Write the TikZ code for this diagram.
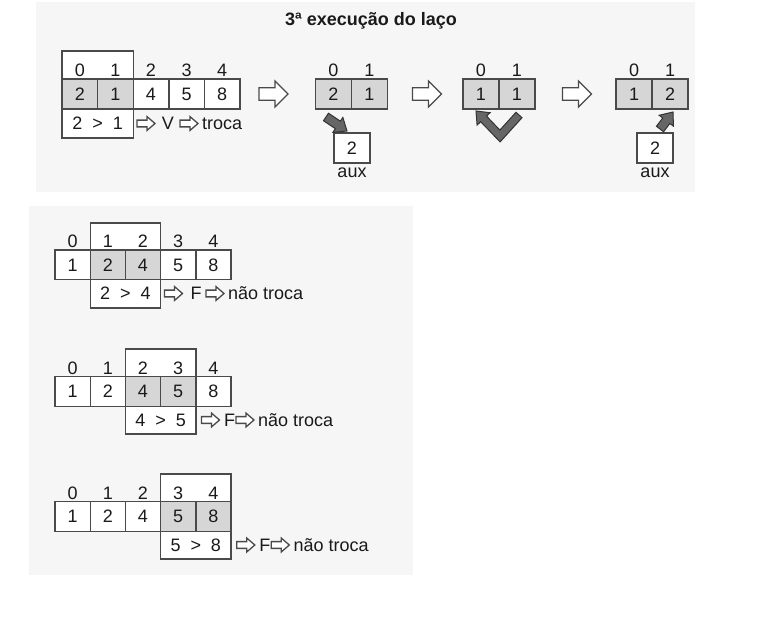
\documentclass[tikz,border=0pt]{standalone}
\usepackage{fontspec}
\setmainfont{Liberation Sans}
\usetikzlibrary{calc}
\definecolor{panel}{HTML}{F6F6F6}
\definecolor{shade}{HTML}{D6D6D6}
\definecolor{edge}{HTML}{4A4A4A}
\definecolor{darr}{HTML}{666666}
\definecolor{ink}{HTML}{1A1A1A}
\newcommand\gt{\hspace{0.55em}>\hspace{0.55em}}
\tikzset{
  cell/.style={draw=edge, line width=1.4pt, minimum height=30pt, inner sep=0pt, text=ink,
    text height=12.9pt, text depth=0pt, font=\fontsize{18}{21}\selectfont},
  lbl/.style={inner sep=0pt, text=ink, text height=12.9pt, text depth=0pt,
    font=\fontsize{18}{21}\selectfont},
  txt/.style={inner sep=0pt, text=ink, font=\fontsize{18}{21}\selectfont},
  frame/.style={draw=edge, line width=1.4pt, fill=white},
  harr/.style={draw=edge, line width=1.3pt, fill=white, line join=miter},
  darkarr/.style={draw=black!80, line width=1pt, fill=darr, line join=miter},
}
\newcommand\harrow[5]{%
  \coordinate (#1) at (#2,#3);
  \pgfmathsetmacro\arL{#4/2}\pgfmathsetmacro\arA{#4/2-0.45*#4}%
  \pgfmathsetmacro\arH{#5/2}\pgfmathsetmacro\arh{0.24*#5}%
  \draw[harr,shift={(#2,#3)}] (-\arL,-\arh) -- (\arA,-\arh) -- (\arA,-\arH) -- (\arL,0)
     -- (\arA,\arH) -- (\arA,\arh) -- (-\arL,\arh) -- cycle;}
\newcommand\darrow[2]{%
  \coordinate (#1b) at ($(#2)!11pt!(#1)$);
  \draw[darkarr] ($(#1)!4.5pt!90:(#2)$) -- ($(#1b)!4.5pt!-90:(#1)$) -- ($(#1b)!9pt!-90:(#1)$)
     -- (#2) -- ($(#1b)!9pt!90:(#1)$) -- ($(#1b)!4.5pt!90:(#1)$) -- ($(#1)!4.5pt!-90:(#2)$) -- cycle;}
\begin{document}
\begin{tikzpicture}[x=1pt,y=-1pt]
\useasboundingbox (0,0) rectangle (761,629);
\fill[panel] (36,2) rectangle (695,192);
\fill[panel] (29,206) rectangle (413,575);

% title
\node[inner sep=0pt, anchor=base, text=ink, font=\bfseries\fontsize{18}{21}\selectfont] (title) at (371,25) {3ª execução do laço};

% ---------- top: array A
\draw[frame] (62,51) rectangle (133.2,138);
\foreach \i/\v/\c in {0/2/shade,1/1/shade,2/4/white,3/5/white,4/8/white}{
  \node[cell, minimum width=35.6pt, fill=\c] (a\i) at (79.8+35.6*\i,94) {\v};
  \node[lbl] (ai\i) at (79.8+35.6*\i,70.5) {\i};
}
\node[lbl] (acmp) at (97.6,123.5) {2\gt 1};
\harrow{aar1}{146}{123.5}{18}{14}
\node[txt, text height=12.9pt, text depth=0pt] (aV) at (168,123.5) {V};
\harrow{aar2}{189}{123.5}{18}{14}
\node[txt, anchor=base west] (atroca) at (202,129.9) {troca};

% big arrows
\harrow{big1}{273.5}{94}{29}{26}
\harrow{big2}{427}{94}{29}{26}
\harrow{big3}{577}{94}{29}{26}

% ---------- array B
\foreach \i/\v in {0/2,1/1}{
  \node[cell, minimum width=36pt, fill=shade] (b\i) at (333.5+36*\i,94) {\v};
  \node[lbl] (bi\i) at (333.5+36*\i,70.5) {\i};
}
\node[cell, minimum width=36pt, fill=white] (auxb) at (352,148) {2};
\node[txt, anchor=base] (auxbl) at (352,177.5) {aux};
\coordinate (tB) at (326,117);
\coordinate (pB) at (347,131);
\darrow{tB}{pB}

% ---------- array C
\foreach \i/\v in {0/1,1/1}{
  \node[cell, minimum width=36pt, fill=shade] (c\i) at (481+36*\i,94) {\v};
  \node[lbl] (ci\i) at (481+36*\i,70.5) {\i};
}
\draw[darkarr] (476,111) -- (490.1,112.7) -- (486.5,116.1) -- (499.9,130.1) -- (516,112.3)
  -- (522,117.7) -- (500.1,141.9) -- (480.7,121.7) -- (477.1,125.1) -- cycle;

% ---------- array D
\foreach \i/\v in {0/1,1/2}{
  \node[cell, minimum width=36pt, fill=shade] (d\i) at (634+36*\i,94) {\v};
  \node[lbl] (di\i) at (634+36*\i,70.5) {\i};
}
\node[cell, minimum width=36pt, fill=white] (auxd) at (655,148) {2};
\node[txt, anchor=base] (auxdl) at (655,177.5) {aux};
\coordinate (tD) at (660,129);
\coordinate (pD) at (673,112);
\darrow{tD}{pD}

% ---------- bottom row 1
\draw[frame] (90.2,223) rectangle (160.6,308);
\foreach \i/\v/\c in {0/1/white,1/2/shade,2/4/shade,3/5/white,4/8/white}{
  \node[cell, minimum width=35.2pt, minimum height=29.5pt, fill=\c] (e\i) at (72.6+35.2*\i,264.75) {\v};
  \node[lbl] (ei\i) at (72.6+35.2*\i,241.5) {\i};
}
\node[lbl] (ecmp) at (125.4,293.5) {2\gt 4};
\harrow{ear1}{173.5}{293.5}{18}{14}
\node[txt, text height=12.9pt, text depth=0pt] (eF) at (196,293.5) {F};
\harrow{ear2}{215}{293.5}{18}{14}
\node[txt, anchor=base west] (etx) at (228,299.9) {não troca};

% ---------- bottom row 2
\draw[frame] (125.4,349) rectangle (195.8,434);
\foreach \i/\v/\c in {0/1/white,1/2/white,2/4/shade,3/5/shade,4/8/white}{
  \node[cell, minimum width=35.2pt, minimum height=29.5pt, fill=\c] (f\i) at (72.6+35.2*\i,391.5) {\v};
  \node[lbl] (fi\i) at (72.6+35.2*\i,368) {\i};
}
\node[lbl] (fcmp) at (160.6,420) {4\gt 5};
\harrow{far1}{210.5}{420}{18}{14}
\node[txt, text height=12.9pt, text depth=0pt] (fF) at (229.5,420) {F};
\harrow{far2}{245}{420}{18}{14}
\node[txt, anchor=base west] (ftx) at (258,426.4) {não troca};

% ---------- bottom row 3
\draw[frame] (160.6,474) rectangle (231,559);
\foreach \i/\v/\c in {0/1/white,1/2/white,2/4/white,3/5/shade,4/8/shade}{
  \node[cell, minimum width=35.2pt, minimum height=29.5pt, fill=\c] (g\i) at (72.6+35.2*\i,516.5) {\v};
  \node[lbl] (gi\i) at (72.6+35.2*\i,493.5) {\i};
}
\node[lbl] (gcmp) at (195.8,545) {5\gt 8};
\harrow{gar1}{245.8}{545}{18}{14}
\node[txt, text height=12.9pt, text depth=0pt] (gF) at (264.8,545) {F};
\harrow{gar2}{280.3}{545}{18}{14}
\node[txt, anchor=base west] (gtx) at (293.3,551.4) {não troca};
\end{tikzpicture}
\end{document}
